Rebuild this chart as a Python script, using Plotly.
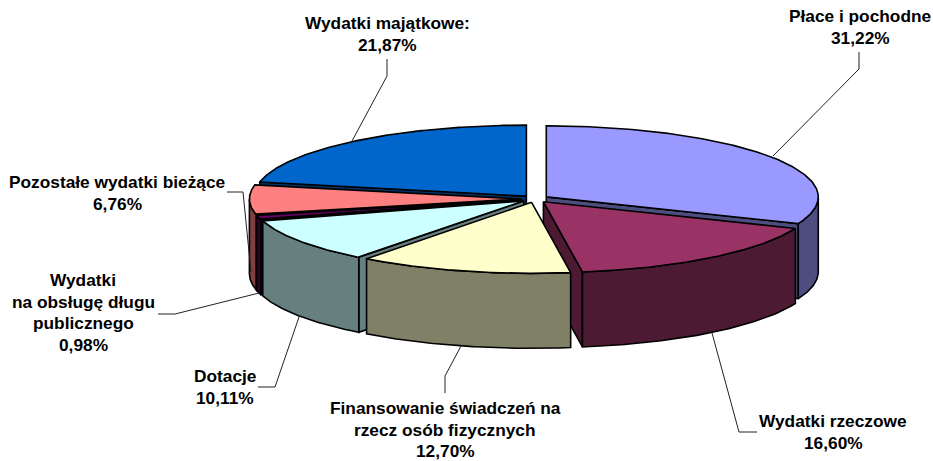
import numpy as np
import plotly.graph_objects as go

# ---- data ----
names = ["Płace i pochodne", "Wydatki rzeczowe", "Finansowanie świadczeń na rzecz osób fizycznych",
         "Dotacje", "Wydatki na obsługę długu publicznego", "Pozostałe wydatki bieżące", "Wydatki majątkowe:"]
values = [31.22, 16.60, 12.70, 10.11, 0.98, 6.76, 21.87]
top_colors = ["#9999FF", "#993366", "#FFFFCC", "#CCFFFF", "#660066", "#FF8080", "#0066CC"]
side_colors = ["#4D4D80", "#4D1A33", "#808066", "#668080", "#330033", "#804040", "#003366"]
draw_order = [6, 0, 5, 4, 3, 1, 2]  # back to front

label_lines = [["Płace i pochodne", "31,22%"],
               ["Wydatki rzeczowe", "16,60%"],
               ["Finansowanie świadczeń na", "rzecz osób fizycznych", "12,70%"],
               ["Dotacje", "10,11%"],
               ["Wydatki", "na obsługę długu", "publicznego", "0,98%"],
               ["Pozostałe wydatki bieżące", "6,76%"],
               ["Wydatki majątkowe:", "21,87%"]]
label_x = [860, 833, 445, 225, 83, 117, 387]
label_y0 = [16, 421, 408, 376, 280, 182, 23]
leaders = [[(859, 52), (859, 69), (773, 156)],
           [(757, 432), (739, 432), (712, 333)],
           [(445, 393), (445, 376), (461, 346)],
           [(258, 387), (275, 387), (299, 317)],
           [(158, 314), (175, 314), (259, 293)],
           [(227, 192), (243, 192), (251, 272)],
           [(387, 59), (387, 76), (352, 141)]]

# ---- projection of the tilted pie ----
CX, CY, RX, RY, DEPTH, EXPLODE = 535.0, 198.9, 272, 71, 75, 0.05
LINE_W = 1.6
LINE_GAP = 21.6

fig = go.Figure()


def poly(xs, ys, color):
    fig.add_trace(go.Scatter(x=list(xs) + [xs[0]], y=list(ys) + [ys[0]], mode="lines", fill="toself",
                             fillcolor=color, line=dict(color="black", width=LINE_W),
                             hoverinfo="skip", showlegend=False))


total = sum(values)
edges = np.concatenate([[0], np.cumsum(values)]) / total * 2 * np.pi
for i in draw_order:
    a0, a1 = edges[i], edges[i + 1]
    mid = (a0 + a1) / 2
    cx = CX + EXPLODE * RX * np.sin(mid)
    cy = CY - EXPLODE * RY * np.cos(mid)
    px = lambda t: cx + RX * np.sin(t)
    py = lambda t: cy - RY * np.cos(t)
    # radial cut faces turned towards the viewer
    for a, normal in ((a0, a0 - np.pi / 2), (a1, a1 + np.pi / 2)):
        if np.cos(normal) < -1e-6:
            poly([cx, px(a), px(a), cx], [cy, py(a), py(a) + DEPTH, cy + DEPTH], side_colors[i])
    # outer wall on the front half
    w0, w1 = max(a0, np.pi / 2), min(a1, 3 * np.pi / 2)
    if w1 > w0:
        t = np.linspace(w0, w1, 80)
        poly(np.concatenate([px(t), px(t[::-1])]),
             np.concatenate([py(t), py(t[::-1]) + DEPTH]), side_colors[i])
    # top face
    t = np.linspace(a0, a1, 160)
    poly(np.concatenate([[cx], px(t)]), np.concatenate([[cy], py(t)]), top_colors[i])

for pts in leaders:
    fig.add_trace(go.Scatter(x=[p[0] for p in pts], y=[p[1] for p in pts], mode="lines",
                             line=dict(color="#222222", width=1), hoverinfo="skip", showlegend=False))

for lines, lx, ly in zip(label_lines, label_x, label_y0):
    for k, s in enumerate(lines):
        fig.add_annotation(x=lx, y=ly + k * LINE_GAP, xref="x", yref="y", text=s, showarrow=False,
                           xanchor="center", yanchor="middle",
                           font=dict(family="Liberation Sans", size=17.3, color="black", weight=700))

fig.update_xaxes(range=[0, 933], visible=False, fixedrange=True)
fig.update_yaxes(range=[461, 0], visible=False, fixedrange=True)
fig.update_layout(width=933, height=461, margin=dict(l=0, r=0, t=0, b=0),
                  paper_bgcolor="white", plot_bgcolor="white", showlegend=False)
fig.write_html("out.html", config={"displayModeBar": False},
               post_script="document.body.style.margin='0';document.body.style.overflow='hidden';")
